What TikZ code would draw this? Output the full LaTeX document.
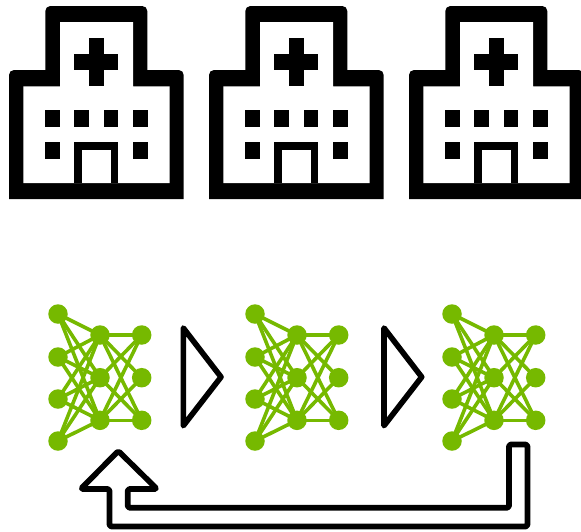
\documentclass[tikz,border=0pt]{standalone}
\definecolor{nngreen}{HTML}{76B900}
\tikzset{
  px/.style={x=1pt,y=-1pt},
  nnode/.style={circle,fill=nngreen,draw=none,minimum size=19.5pt,inner sep=0pt},
  nedge/.style={draw=nngreen,line width=3.6pt},
  outline/.style={draw=black,line width=5.6pt,line join=round,line cap=round},
  bldfill/.style={fill=black,draw=none}
}
\newcommand{\hospital}[1]{%
\begin{scope}[shift={(#1,0)}]
  \path[bldfill] (9,199) [rounded corners=5pt] -- (9,70) [sharp corners] -- (45.3,70) [rounded corners=5pt] -- (45.3,6) -- (147.3,6) [sharp corners] -- (147.3,70) [rounded corners=5pt] -- (183.7,70) [sharp corners] -- (183.7,199) -- cycle;
  \path[fill=white] (23.3,183) -- (23.3,86.3) -- (60,86.3) -- (60,22) -- (133,22) -- (133,86.3) -- (169.7,86.3) -- (169.7,183) -- cycle;
  \path[bldfill] (89,38) rectangle (103.7,86.3);
  \path[bldfill] (74.3,54) rectangle (118.3,70);
  \foreach \xa in {45.3,74.3,103.7,133} {\path[bldfill] (\xa,110.3) rectangle ++(14.6,16.4);}
  \foreach \xa in {45.3,133} {\path[bldfill] (\xa,142.3) rectangle ++(14.6,16.4);}
  \path[bldfill] (74.3,142.3) rectangle (118.3,183);
  \path[fill=white] (81.7,150.3) rectangle (111,183);
\end{scope}}
\newcommand{\network}[2]{%
\begin{scope}[shift={(#2,0)}]
  \foreach \i/\yy in {1/314,2/357,3/399,4/441} {\node[nnode] (#1a\i) at (58,\yy) {};}
  \foreach \j/\yy in {1/335,2/377.7,3/420.3} {\node[nnode] (#1b\j) at (100,\yy) {};}
  \foreach \j/\yy in {1/335,2/377.7,3/420.3} {\node[nnode] (#1c\j) at (141.7,\yy) {};}
  \begin{pgfonlayer}{bg}
  \foreach \i in {1,2,3,4} {\foreach \j in {1,2,3} {\path[nedge] (#1a\i.center) -- (#1b\j.center);}}
  \foreach \i/\j in {1/1,1/2,1/3,2/1,2/3,3/1,3/2,3/3} {\path[nedge] (#1b\i.center) -- (#1c\j.center);}
  \end{pgfonlayer}
\end{scope}}
\pgfdeclarelayer{bg}
\pgfsetlayers{bg,main}
\begin{document}
\begin{tikzpicture}[px]
\useasboundingbox (0,0) rectangle (581,531);
\hospital{0}
\hospital{200}
\hospital{400}
\network{p}{0}
\network{q}{197}
\network{r}{394}
\path[outline] (183.3,328) -- (221,377) -- (183.3,425.7) -- cycle;
\path[outline] (384,328) -- (421.7,377) -- (384,425.7) -- cycle;
\path[outline,rounded corners=1.5pt] (118.3,451) -- (157,489) -- (127.7,489) -- (127.7,507.7) -- (509,507.7) -- (509,444.5) -- (527.5,444.5) -- (527.5,526.5) -- (109.5,526.5) -- (109.5,489) -- (80.7,489) -- cycle;
\end{tikzpicture}
\end{document}
